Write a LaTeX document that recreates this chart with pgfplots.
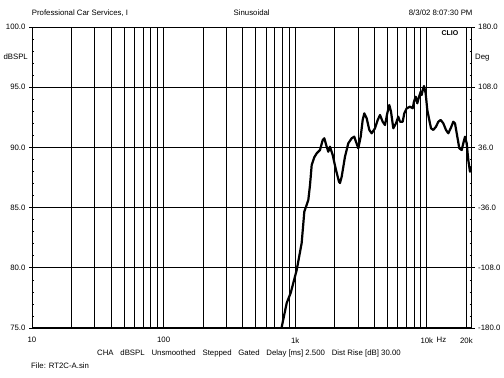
\documentclass[border=0pt]{standalone}
\usepackage{fontspec}
\setmainfont{Liberation Sans}
\usepackage{pgfplots}
\pgfplotsset{compat=1.18}
\begin{document}
\begin{tikzpicture}[x=1pt,y=1pt,font=\fontsize{7.8}{9}\selectfont]
\path[use as bounding box,fill=white] (0,0) rectangle (504,378);
\begin{axis}[
  at={(32pt,50pt)}, anchor=south west,
  width=439.7pt, height=301pt, scale only axis,
  xmode=log, xmin=10, xmax=21940, ymin=75, ymax=100,
  xtick={10,100,1000,10000,20000},
  xticklabels={10,100,1k,10k,20k},
  minor xtick={20,30,40,50,60,70,80,90,200,300,400,500,600,700,800,900,2000,3000,4000,5000,6000,7000,8000,9000},
  xtick style={draw=none},
  minor x tick style={draw=none},
  xticklabel style={yshift=-3pt},
  xmajorgrids, xminorgrids, ymajorgrids,
  grid style={black, line width=0.8pt},
  minor grid style={black, line width=0.8pt},
  ytick={75,80,85,90,95,100},
  yticklabels={75.0,80.0,85.0,90.0,95.0,100.0},
  minor y tick num=4,
  ytick pos=left,
  tick align=outside,
  major tick length=3pt,
  minor tick length=-2pt,
  ytick style={black, line width=0.6pt},
  axis line style={black, line width=0.8pt},
  clip=true,
]
\addplot[black, line width=2.2pt, line join=round, line cap=round] coordinates {
(770,74.8) (790,75.08) (862,77.08) (924,77.91) (1027,79.82) (1120,82.06)
(1173,84.66) (1258,85.63) (1296,86.88) (1335,88.54) (1397,89.18) (1457,89.51)
(1543,89.78) (1618,90.61) (1664,90.76) (1735,90.06) (1784,89.64) (1838,90.06)
(1927,89.37) (2042,88.12) (2152,87.15) (2190,87.04) (2256,87.57) (2390,89.23)
(2532,90.34) (2687,90.76) (2812,90.89) (2897,90.47) (3016,89.93) (3146,90.89)
(3258,92.28) (3350,92.83) (3493,92.42) (3657,91.45) (3814,91.17) (4041,91.59)
(4237,92.28) (4411,92.69) (4623,92.13) (4812,91.86) (5010,92.83) (5189,93.52)
(5346,92.97) (5565,91.59) (5834,92.00) (6074,92.55) (6258,92.13) (6559,92.13)
(6746,92.83) (7036,93.25) (7454,93.38) (7814,93.25) (7993,93.80) (8237,94.21)
(8471,93.66) (8727,94.21) (8990,94.63) (9149,94.35) (9310,94.77) (9521,95.10)
(9808,94.49) (10087,93.11) (10447,92.28) (10763,91.59) (11206,91.45) (11748,91.72)
(12229,92.13) (12754,92.28) (13350,92.00) (13990,91.45) (14566,91.17) (15190,91.59)
(15900,92.13) (16380,92.00) (17055,90.89) (17660,89.93) (18420,89.78) (18940,90.34)
(19510,90.89) (20100,90.34) (20670,88.95) (21290,87.98) (21940,88.40)
};
\draw[black, line width=2pt] (rel axis cs:0,0) -- (rel axis cs:1,0);
\end{axis}
\begin{axis}[
  at={(32pt,50pt)}, anchor=south west,
  width=439.7pt, height=301pt, scale only axis,
  ymin=-180, ymax=180, xmin=0, xmax=1,
  hide x axis,
  axis y line*=right,
  ytick={-180,-108,-36,36,108,180},
  yticklabels={-180.0,-108.0,-36.0,36.0,108.0,180.0},
  minor y tick num=4,
  tick align=outside,
  major tick length=3pt,
  minor tick length=-2pt,
  ytick style={black, line width=0.6pt},
  axis line style={black, line width=0.8pt},
]
\end{axis}
\node[anchor=west, inner sep=0] at (31.7,365) {Professional Car Services, I};
\node[inner sep=0] at (251.7,365) {Sinusoidal};
\node[anchor=east, inner sep=0] at (472.7,365) {8/3/02 8:07:30 PM};
\node[anchor=east, inner sep=0] at (28,321) {dBSPL};
\node[anchor=west, inner sep=0] at (475,320) {Deg};
\node[inner sep=0] at (441.5,38) {Hz};
\node[inner sep=1pt, font=\fontsize{7}{8}\selectfont\bfseries] at (450,345) {CLIO};
\node[anchor=west, inner sep=0] at (97,25) {CHA\hspace{6.8pt}dBSPL\hspace{6.8pt}Unsmoothed\hspace{6.8pt}Stepped\hspace{6.8pt}Gated\hspace{6.8pt}Delay [ms] 2.500\hspace{6.8pt}Dist Rise [dB] 30.00};
\node[anchor=west, inner sep=0] at (31,12) {File: RT2C-A.sin};
\end{tikzpicture}
\end{document}
